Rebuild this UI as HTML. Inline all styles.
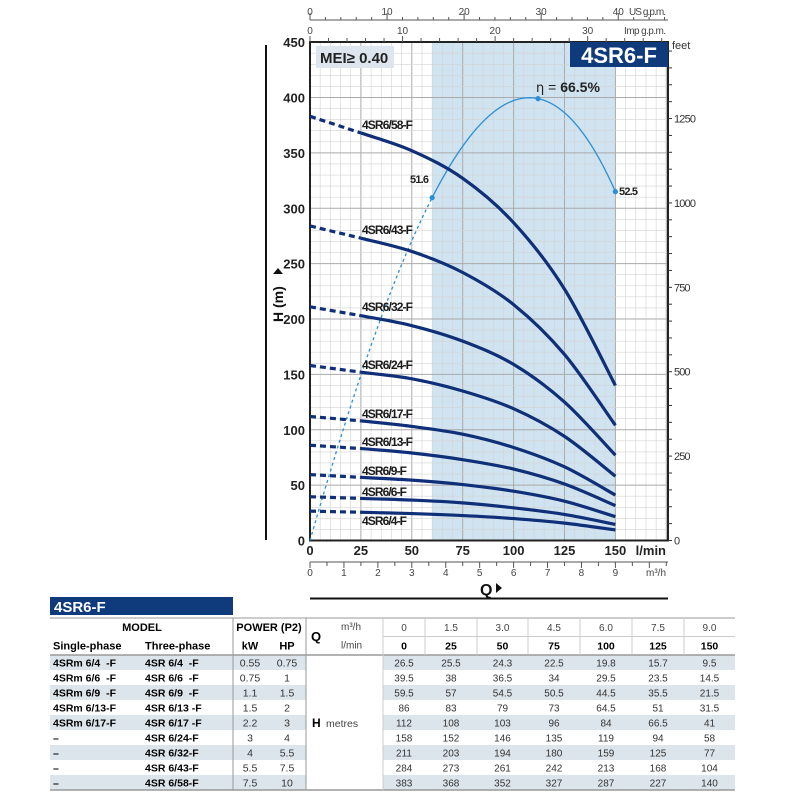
<!DOCTYPE html>
<html><head><meta charset="utf-8"><style>
body{margin:0;background:#fff;width:800px;height:800px;overflow:hidden}
svg{position:absolute;left:0;top:0}
text{font-family:"Liberation Sans Narrow","Liberation Sans",sans-serif}
</style></head><body>
<svg id="s" width="800" height="800" xmlns="http://www.w3.org/2000/svg"></svg>
<script>
const S=document.getElementById('s');let h='';
const X=q=>310+q*2.036, Y=m=>540.5-m*1.1075;
const R=668;
h+=`<rect x="${X(60)}" y="42" width="${X(150)-X(60)}" height="${540.5-42}" fill="#cfe3f0"/>`;
for(let q=0;q<=177;q+=5){let x=X(q);if(x>R)break;h+=`<line x1="${x}" y1="42" x2="${x}" y2="540.5" stroke="${q%25==0?'#aaa':'#d4d4d4'}" stroke-width="${q%25==0?1:0.6}"/>`;}
for(let m=0;m<=450;m+=10){let y=Y(m);h+=`<line x1="310" y1="${y}" x2="${R}" y2="${y}" stroke="${m%50==0?'#aaa':'#d4d4d4'}" stroke-width="${m%50==0?1:0.6}"/>`;}
h+=`<rect x="310" y="42" width="${R-310}" height="${540.5-42}" fill="none" stroke="#222" stroke-width="2"/>`;
h+=`<rect x="316" y="46" width="78" height="22" fill="#dde6ee"/><text x="320" y="63" font-size="15" font-weight="bold" fill="#222" font-family="Liberation Sans">MEI≥ 0.40</text>`;
h+=`<rect x="570" y="42" width="98" height="25" fill="#0f3b7c"/><text x="619" y="63" font-size="22" font-weight="bold" fill="#fff" text-anchor="middle" font-family="Liberation Sans">4SR6-F</text>`;
for(let m=0;m<=450;m+=50)h+=`<text x="305" y="${Y(m)+5}" font-size="13" font-weight="bold" text-anchor="end" fill="#222">${m}</text>`;
for(let f=0;f<=1450;f+=50){let y=Y(f*0.3048);if(y<44)break;h+=`<line x1="${R}" y1="${y}" x2="${R+4}" y2="${y}" stroke="#333"/>`;if(f%250==0)h+=`<text x="${R+6}" y="${y+4}" font-size="11" fill="#333" textLength="${String(f).length*5.5}">${f}</text>`;}
h+=`<text x="${R+4}" y="49" font-size="11" fill="#333">feet</text>`;
for(let q=0;q<=150;q+=25)h+=`<text x="${X(q)}" y="555" font-size="13" font-weight="bold" text-anchor="middle" fill="#222">${q}</text>`;
h+=`<text x="666" y="555" font-size="13" font-weight="bold" text-anchor="end" fill="#222">l/min</text>`;
h+=`<line x1="310" y1="562" x2="${R}" y2="562" stroke="#555"/>`;
for(let m=0;m<=10.5;m+=0.5){let x=X(m*1000/60);if(x>R)break;h+=`<line x1="${x}" y1="562" x2="${x}" y2="${m%1==0?568:566}" stroke="#555"/>`;if(m%1==0&&m<=9)h+=`<text x="${x}" y="576" font-size="10" text-anchor="middle" fill="#444">${m}</text>`;}
h+=`<text x="666" y="576" font-size="10" text-anchor="end" fill="#444">m³/h</text>`;
h+=`<text x="480" y="595" font-size="16" font-weight="bold" fill="#111" font-family="Liberation Sans">Q</text><path d="M496 583 L502 588 L496 593Z" fill="#111"/>`;
h+=`<line x1="310" y1="598.5" x2="${R}" y2="598.5" stroke="#111" stroke-width="2"/>`;
h+=`<line x1="310" y1="20" x2="${R}" y2="20" stroke="#555"/>`;
for(let g=0;g<=46;g+=2){let x=X(g*3.785);if(x>R)break;h+=`<line x1="${x}" y1="${g%10==0?13:17}" x2="${x}" y2="20" stroke="#555"/>`;if(g%10==0)h+=`<text x="${x}" y="15" font-size="10" text-anchor="middle" fill="#444">${g}</text>`;}
h+=`<text x="666" y="15" font-size="10" text-anchor="end" fill="#444" textLength="37">US g.p.m.</text>`;
for(let g=0;g<=38;g+=2){let x=X(g*4.546);if(x>R)break;h+=`<line x1="${x}" y1="${g%10==0?36:38}" x2="${x}" y2="42" stroke="#555"/>`;if(g%10==0)h+=`<text x="${x}" y="34" font-size="10" text-anchor="middle" fill="#444">${g}</text>`;}
h+=`<text x="666" y="34" font-size="10" text-anchor="end" fill="#444" textLength="42">Imp g.p.m.</text>`;
h+=`<line x1="266" y1="45" x2="266" y2="540" stroke="#111" stroke-width="2"/>`;
h+=`<text transform="translate(283,322) rotate(-90)" font-size="14" font-weight="bold" fill="#111" font-family="Liberation Sans">H (m)</text><path d="M273 274 L278 268 L283 274Z" fill="#111"/>`;
const ep=[[0,0],[60,51.6],[112,66.5],[150,52.5]];
const L=q=>{let s=0;for(let i=0;i<4;i++){let p=ep[i][1];for(let j=0;j<4;j++)if(j!=i)p*=(q-ep[j][0])/(ep[i][0]-ep[j][0]);s+=p;}return s;};
let d1='',d2='';for(let q=0;q<=60;q+=2)d1+=(q?'L':'M')+X(q)+' '+Y(L(q)*6)+' ';
for(let q=60;q<=150;q+=2)d2+=(q>60?'L':'M')+X(q)+' '+Y(L(q)*6)+' ';
h+=`<path d="${d1}" fill="none" stroke="#2a8fd8" stroke-width="1.3" stroke-dasharray="3,3"/><path d="${d2}" fill="none" stroke="#2a8fd8" stroke-width="1.3"/>`;
[[60,51.6],[112,66.5],[150,52.5]].forEach(p=>h+=`<circle cx="${X(p[0])}" cy="${Y(p[1]*6)}" r="2.6" fill="#2a8fd8"/>`);
h+=`<text x="410" y="183" font-size="11" font-weight="bold" fill="#222" textLength="19">51.6</text><text x="619" y="195" font-size="11" font-weight="bold" fill="#222" textLength="19">52.5</text>`;
h+=`<text x="536" y="92" font-size="14" fill="#222"><tspan font-family="DejaVu Sans" font-size="13">η</tspan> = <tspan font-weight="bold">66.5%</tspan></text>`;
const D=[[26.5,25.5,24.3,22.5,19.8,15.7,9.5],[39.5,38,36.5,34,29.5,23.5,14.5],[59.5,57,54.5,50.5,44.5,35.5,21.5],[86,83,79,73,64.5,51,31.5],[112,108,103,96,84,66.5,41],[158,152,146,135,119,94,58],[211,203,194,180,159,125,77],[284,273,261,242,213,168,104],[383,368,352,327,287,227,140]];
const names=['4SR6/4-F','4SR6/6-F','4SR6/9-F','4SR6/13-F','4SR6/17-F','4SR6/24-F','4SR6/32-F','4SR6/43-F','4SR6/58-F'];
const ly=[525,496,475,446,418,369,311,234,129];
D.forEach((r,k)=>{let P=r.map((v,i)=>[X(i*25),Y(v)]);
 h+=`<path d="M${P[0][0]} ${P[0][1]} L${P[1][0]} ${P[1][1]}" stroke="#0f2f78" stroke-width="3.2" stroke-dasharray="6,4" fill="none"/>`;
 let d=`M${P[1][0]} ${P[1][1]}`;
 for(let i=1;i<6;i++){let p0=P[i-1],p1=P[i],p2=P[i+1],p3=P[Math.min(i+2,6)];
  d+=` C${p1[0]+(p2[0]-p0[0])/6} ${p1[1]+(p2[1]-p0[1])/6} ${p2[0]-(p3[0]-p1[0])/6} ${p2[1]-(p3[1]-p1[1])/6} ${p2[0]} ${p2[1]}`;}
 h+=`<path d="${d}" stroke="#0f2f78" stroke-width="3.2" fill="none"/>`;
 h+=`<text x="362" y="${ly[k]}" font-size="12" font-weight="bold" fill="#1a1a1a" textLength="${names[k].length>8?51:45}">${names[k]}</text>`;
});
h+=`<rect x="50" y="597" width="183" height="18" fill="#0f3b7c"/><text x="54" y="612" font-size="15" font-weight="bold" fill="#fff" font-family="Liberation Sans">4SR6-F</text>`;
const T0=618,rh0=18.5,rd=15;
h+=`<line x1="50" y1="${T0}" x2="735" y2="${T0}" stroke="#bbb" stroke-width="1.5"/>`;
const dy=T0+2*rh0;
for(let i=0;i<9;i++){let y=dy+i*rd;if(i%2==0){h+=`<rect x="50" y="${y}" width="256" height="${rd}" fill="#dde5ec"/><rect x="383" y="${y}" width="352" height="${rd}" fill="#dde5ec"/>`;}}
h+=`<line x1="50" y1="${dy}" x2="735" y2="${dy}" stroke="#999" stroke-width="1.5"/><line x1="50" y1="${dy+9*rd}" x2="735" y2="${dy+9*rd}" stroke="#999" stroke-width="1.5"/>`;
h+=`<line x1="383" y1="${T0+rh0}" x2="735" y2="${T0+rh0}" stroke="#ccc"/>`;
[233,306].forEach(x=>h+=`<line x1="${x}" y1="${T0}" x2="${x}" y2="${dy+9*rd}" stroke="#999"/>`);
const cx=[383,425,477,528,580,632,684,735];
for(let i=0;i<7;i++)h+=`<line x1="${cx[i]}" y1="${T0}" x2="${cx[i]}" y2="${dy}" stroke="#ccc"/>`;
h+=`<line x1="383" y1="${dy}" x2="383" y2="${dy+9*rd}" stroke="#ccc"/>`;
const tf='font-family="Liberation Sans"';
h+=`<text x="142" y="${T0+13}" font-size="11" font-weight="bold" text-anchor="middle" ${tf}>MODEL</text>`;
h+=`<text x="269" y="${T0+13}" font-size="11" font-weight="bold" text-anchor="middle" ${tf}>POWER (P2)</text>`;
h+=`<text x="53" y="${T0+rh0+13}" font-size="11" font-weight="bold" ${tf}>Single-phase</text><text x="145" y="${T0+rh0+13}" font-size="11" font-weight="bold" ${tf}>Three-phase</text>`;
h+=`<text x="250" y="${T0+rh0+13}" font-size="11" font-weight="bold" text-anchor="middle" ${tf}>kW</text><text x="287" y="${T0+rh0+13}" font-size="11" font-weight="bold" text-anchor="middle" ${tf}>HP</text>`;
h+=`<text x="311" y="${T0+23}" font-size="13" font-weight="bold" ${tf}>Q</text><text x="341" y="${T0+12}" font-size="10" fill="#444" ${tf}>m³/h</text><text x="341" y="${T0+rh0+12}" font-size="10" fill="#444" ${tf}>l/min</text>`;
const m3=['0','1.5','3.0','4.5','6.0','7.5','9.0'];
for(let i=0;i<7;i++){let c=(cx[i]+cx[i+1])/2;h+=`<text x="${c}" y="${T0+13}" font-size="10" fill="#444" text-anchor="middle" ${tf}>${m3[i]}</text><text x="${c}" y="${T0+rh0+13}" font-size="10.5" font-weight="bold" text-anchor="middle" ${tf}>${i*25}</text>`;}
const sp=['4SRm 6/4  -F','4SRm 6/6  -F','4SRm 6/9  -F','4SRm 6/13-F','4SRm 6/17-F','–','–','–','–'];
const tp=['4SR 6/4  -F','4SR 6/6  -F','4SR 6/9  -F','4SR 6/13 -F','4SR 6/17 -F','4SR 6/24-F','4SR 6/32-F','4SR 6/43-F','4SR 6/58-F'];
const kw=['0.55','0.75','1.1','1.5','2.2','3','4','5.5','7.5'],hp=['0.75','1','1.5','2','3','4','5.5','7.5','10'];
for(let i=0;i<9;i++){let y=dy+i*rd+11.5;
 h+=`<text x="53" y="${y}" font-size="10.5" font-weight="bold" xml:space="preserve" ${tf}>${sp[i]}</text><text x="145" y="${y}" font-size="10.5" font-weight="bold" xml:space="preserve" ${tf}>${tp[i]}</text>`;
 h+=`<text x="250" y="${y}" font-size="10.5" fill="#333" text-anchor="middle" ${tf}>${kw[i]}</text><text x="287" y="${y}" font-size="10.5" fill="#333" text-anchor="middle" ${tf}>${hp[i]}</text>`;
 for(let j=0;j<7;j++)h+=`<text x="${(cx[j]+cx[j+1])/2}" y="${y}" font-size="10" fill="#333" text-anchor="middle" ${tf}>${D[i][j]}</text>`;}
h+=`<text x="312" y="${dy+4*rd+12}" font-size="12" font-weight="bold" ${tf}>H</text><text x="326" y="${dy+4*rd+12}" font-size="10.5" fill="#444" ${tf}>metres</text>`;
S.innerHTML=h;
</script>
</body></html>
